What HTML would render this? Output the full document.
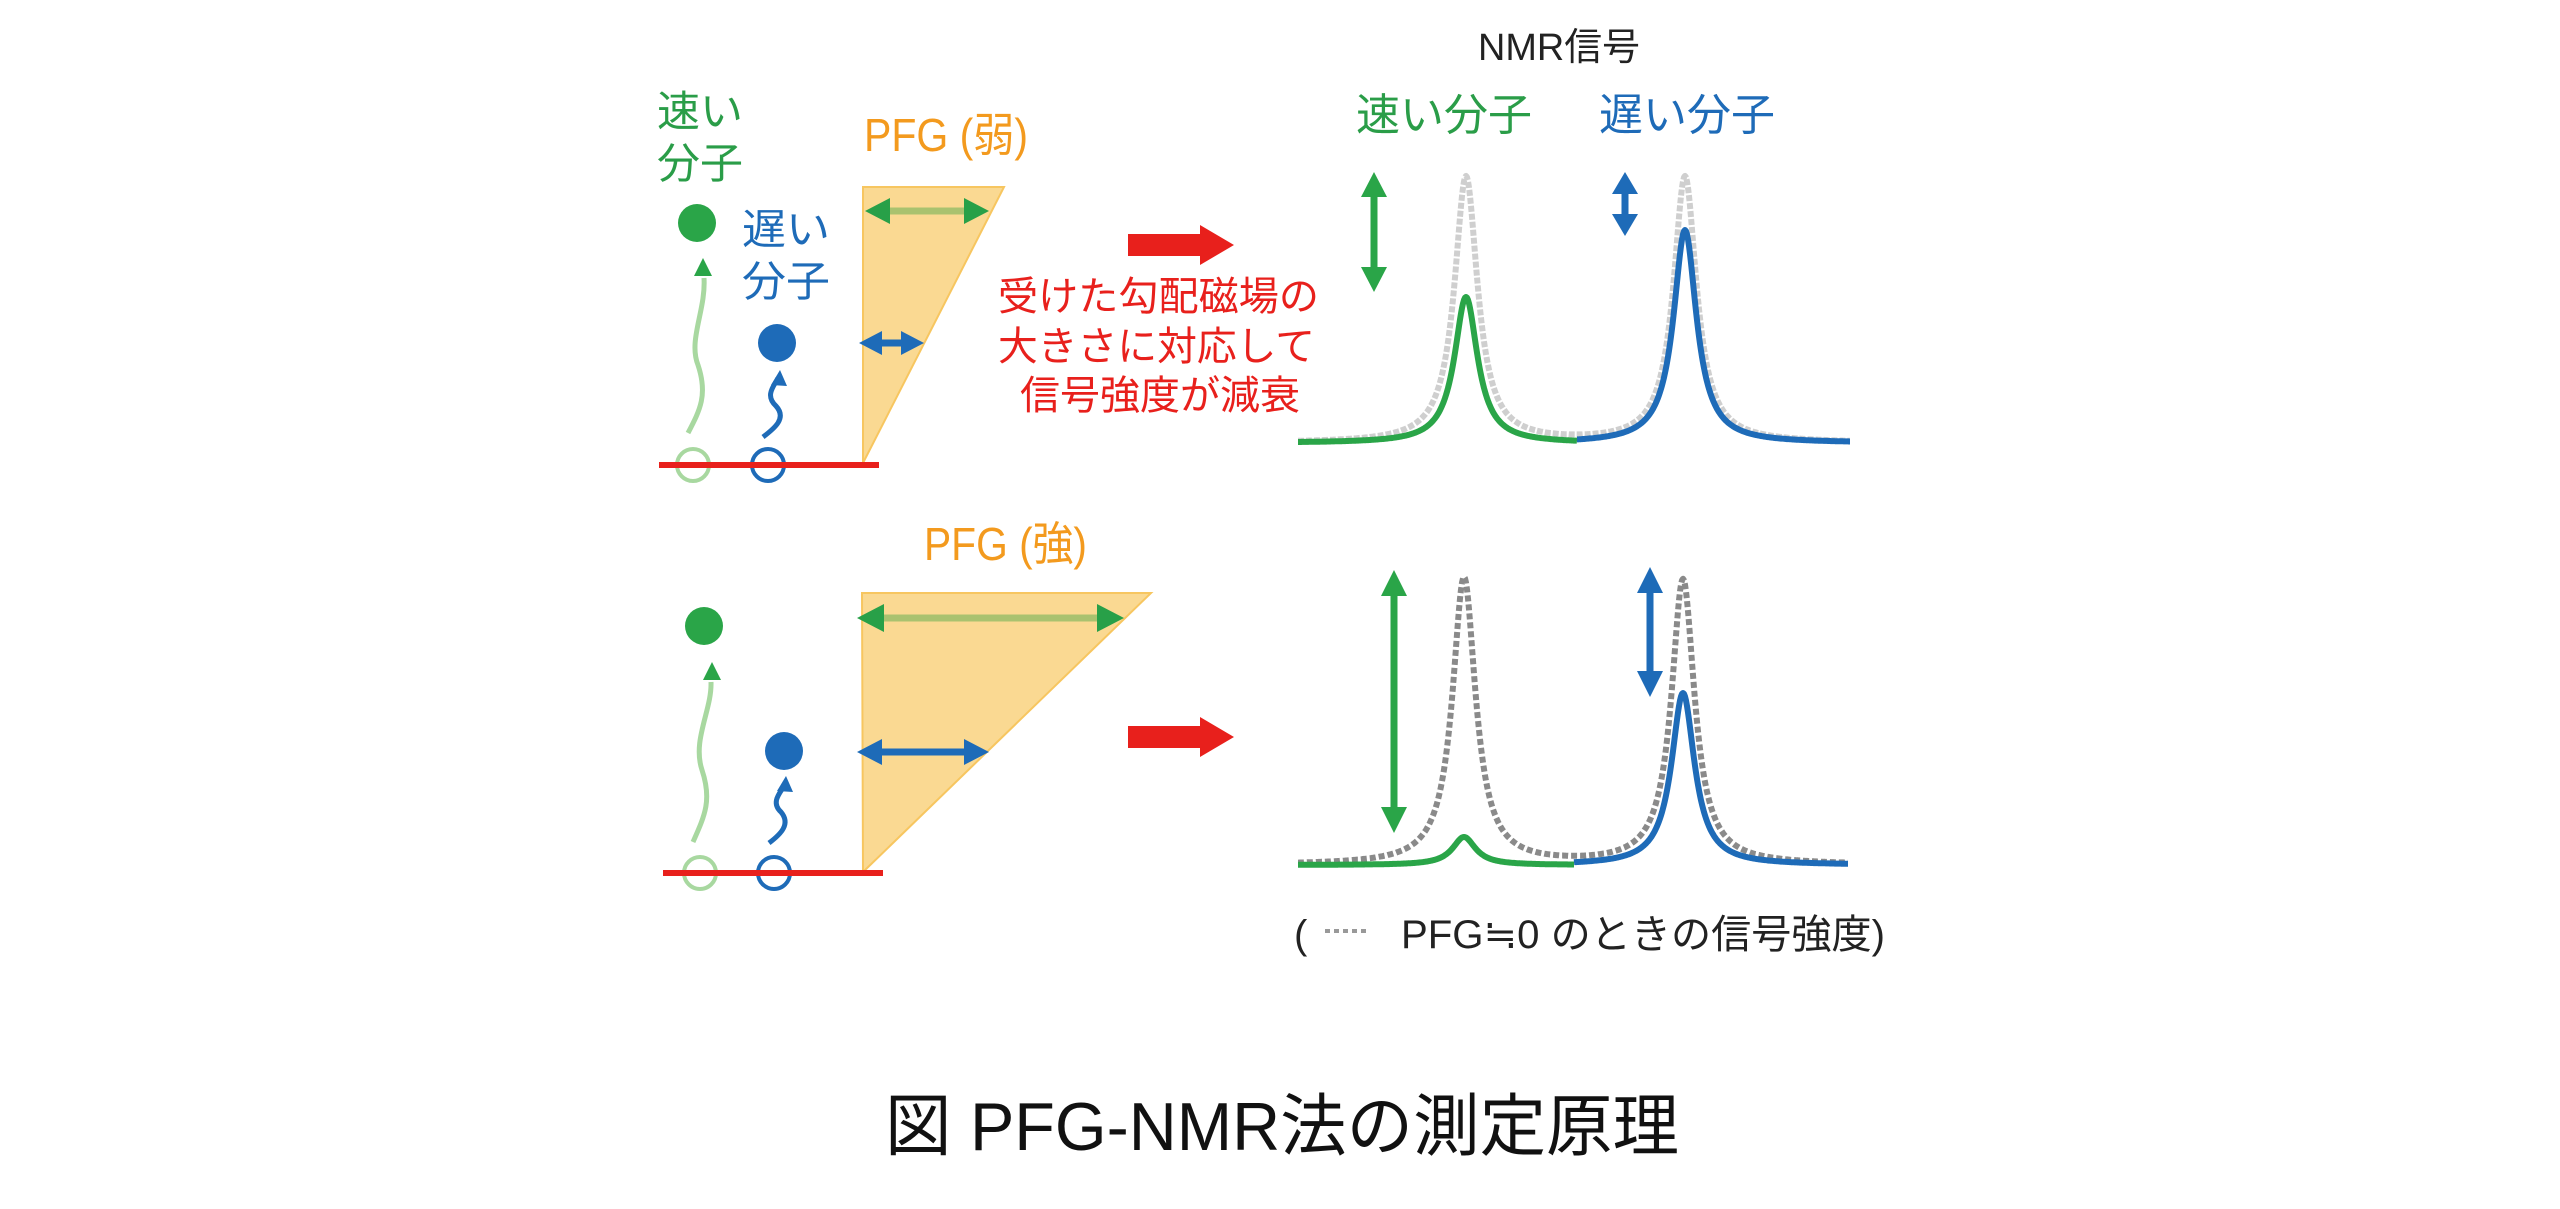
<!DOCTYPE html>
<html><head><meta charset="utf-8"><style>
html,body{margin:0;padding:0;background:#fff}
svg{display:block}
text{font-family:"Liberation Sans","Noto Sans CJK JP",sans-serif}
</style></head><body>
<svg id="s" width="2560" height="1209" viewBox="0 0 2560 1209" xmlns="http://www.w3.org/2000/svg">
<!-- top left -->
<text x="657" y="126" font-size="42" fill="#2a9d48" textLength="86" lengthAdjust="spacingAndGlyphs">速い</text>
<text x="657" y="178" font-size="42" fill="#2a9d48" textLength="86" lengthAdjust="spacingAndGlyphs">分子</text>
<text x="742" y="244" font-size="42" fill="#1e6bb8" textLength="88" lengthAdjust="spacingAndGlyphs">遅い</text>
<text x="742" y="296" font-size="42" fill="#1e6bb8" textLength="88" lengthAdjust="spacingAndGlyphs">分子</text>
<text x="864" y="151" font-size="46" fill="#f39a1e" textLength="164" lengthAdjust="spacingAndGlyphs">PFG (弱)</text>
<polygon points="863,187 1004,187 863,463" fill="#fad992" stroke="#f7c660" stroke-width="2"/>
<line x1="880" y1="211" x2="972" y2="211" stroke="#a9c26f" stroke-width="7"/>
<polygon points="865,211 890,198 890,224" fill="#28a048"/><polygon points="989,211 964,198 964,224" fill="#28a048"/>
<line x1="875" y1="343" x2="910" y2="343" stroke="#1e6bb8" stroke-width="7"/>
<polygon points="859,343 882,331 882,355" fill="#1e6bb8"/><polygon points="924,343 901,331 901,355" fill="#1e6bb8"/>
<circle cx="697" cy="223" r="19" fill="#2aa548"/>
<path d="M688,433 C700,410 708,395 698,365 C688,340 706,310 704,278" fill="none" stroke="#a8d8a0" stroke-width="5"/>
<polygon points="703,258 694,276 712,276" fill="#2aa548"/>
<circle cx="777" cy="343" r="19" fill="#1e6bb8"/>
<path d="M763,437 C775,428 787,418 776,406 C764,395 775,385 778,378" fill="none" stroke="#1e6bb8" stroke-width="5"/>
<polygon points="780,370 771,385 787,386" fill="#1e6bb8"/>
<circle cx="693" cy="465" r="16" fill="none" stroke="#a8d8a0" stroke-width="4"/>
<circle cx="768" cy="465" r="16" fill="none" stroke="#1e6bb8" stroke-width="4"/>
<line x1="659" y1="465" x2="879" y2="465" stroke="#e8201c" stroke-width="6"/>
<!-- red arrow top -->
<polygon points="1128,234 1200,234 1200,225 1234,245 1200,265 1200,256 1128,256" fill="#e8201c"/>
<text x="998" y="310" font-size="40" fill="#e8201c" textLength="321" lengthAdjust="spacingAndGlyphs">受けた勾配磁場の</text>
<text x="998" y="360" font-size="40" fill="#e8201c" textLength="317" lengthAdjust="spacingAndGlyphs">大きさに対応して</text>
<text x="1020" y="409" font-size="40" fill="#e8201c" textLength="280" lengthAdjust="spacingAndGlyphs">信号強度が減衰</text>
<!-- bottom left -->
<text x="924" y="560" font-size="46" fill="#f39a1e" textLength="163" lengthAdjust="spacingAndGlyphs">PFG (強)</text>
<polygon points="862,593 1151,593 863,872" fill="#fad992" stroke="#f7c660" stroke-width="2"/>
<line x1="878" y1="618" x2="1104" y2="618" stroke="#a9c26f" stroke-width="7"/>
<polygon points="857,618 884,604 884,632" fill="#28a048"/><polygon points="1124,618 1097,604 1097,632" fill="#28a048"/>
<line x1="878" y1="752" x2="970" y2="752" stroke="#1e6bb8" stroke-width="7"/>
<polygon points="857,752 882,739 882,765" fill="#1e6bb8"/><polygon points="989,752 964,739 964,765" fill="#1e6bb8"/>
<circle cx="704" cy="626" r="19" fill="#2aa548"/>
<path d="M693,842 C705,815 712,800 702,770 C692,740 712,710 711,682" fill="none" stroke="#a8d8a0" stroke-width="5"/>
<polygon points="712,662 703,680 721,680" fill="#2aa548"/>
<circle cx="784" cy="751" r="19" fill="#1e6bb8"/>
<path d="M769,843 C781,834 791,824 781,812 C770,802 781,792 784,786" fill="none" stroke="#1e6bb8" stroke-width="5"/>
<polygon points="786,776 777,791 793,792" fill="#1e6bb8"/>
<circle cx="700" cy="873" r="16" fill="none" stroke="#a8d8a0" stroke-width="4"/>
<circle cx="774" cy="873" r="16" fill="none" stroke="#1e6bb8" stroke-width="4"/>
<line x1="663" y1="873" x2="883" y2="873" stroke="#e8201c" stroke-width="6"/>
<polygon points="1128,726 1200,726 1200,717 1234,737 1200,757 1200,748 1128,748" fill="#e8201c"/>
<!-- right labels -->
<text x="1478" y="60" font-size="38" fill="#222" textLength="162" lengthAdjust="spacingAndGlyphs">NMR信号</text>
<text x="1356" y="130" font-size="44" fill="#2a9d48" textLength="176" lengthAdjust="spacingAndGlyphs">速い分子</text>
<text x="1599" y="130" font-size="44" fill="#1e6bb8" textLength="176" lengthAdjust="spacingAndGlyphs">遅い分子</text>
<g id="spec"></g>
<!-- vertical arrows -->
<line x1="1374" y1="190" x2="1374" y2="274" stroke="#2aa548" stroke-width="7"/>
<polygon points="1374,172 1361,197 1387,197" fill="#2aa548"/><polygon points="1374,292 1361,267 1387,267" fill="#2aa548"/>
<line x1="1625" y1="185" x2="1625" y2="223" stroke="#1e6bb8" stroke-width="7"/>
<polygon points="1625,172 1612,194 1638,194" fill="#1e6bb8"/><polygon points="1625,236 1612,214 1638,214" fill="#1e6bb8"/>
<line x1="1394" y1="590" x2="1394" y2="815" stroke="#2aa548" stroke-width="7"/>
<polygon points="1394,570 1381,596 1407,596" fill="#2aa548"/><polygon points="1394,833 1381,807 1407,807" fill="#2aa548"/>
<line x1="1650" y1="585" x2="1650" y2="680" stroke="#1e6bb8" stroke-width="7"/>
<polygon points="1650,567 1637,593 1663,593" fill="#1e6bb8"/><polygon points="1650,697 1637,671 1663,671" fill="#1e6bb8"/>
<!-- legend -->
<text x="1294" y="948" font-size="40" fill="#222">(</text>
<line x1="1325" y1="931" x2="1370" y2="931" stroke="#999" stroke-width="4" stroke-dasharray="5,4"/>
<text x="1401" y="948" font-size="40" fill="#222" textLength="484" lengthAdjust="spacingAndGlyphs">PFG≒0 のときの信号強度)</text>
<!-- caption -->
<text x="885" y="1150" font-size="68" fill="#111" textLength="794" lengthAdjust="spacingAndGlyphs">図  PFG-NMR法の測定原理</text>
</svg>
<script>
(function(){
var g=document.getElementById('spec');var ns='http://www.w3.org/2000/svg';
function path(d,stroke,w,dash){var p=document.createElementNS(ns,'path');p.setAttribute('d',d);p.setAttribute('fill','none');p.setAttribute('stroke',stroke);p.setAttribute('stroke-width',w);p.setAttribute('stroke-linejoin','round');if(dash)p.setAttribute('stroke-dasharray',dash);g.appendChild(p);}
function curve(x0,x1,base,peaks){var d='';for(var x=x0;x<=x1;x+=1){var y=base;for(var i=0;i<peaks.length;i++){var p=peaks[i];var t=(x-p[0])/p[2];y-=p[1]/(1+t*t);}d+=(x==x0?'M':'L')+x+','+y.toFixed(1);}return d;}
var w=14;
path(curve(1298,1850,443,[[1466,266,w],[1685,266,w]]),'#cfcfcf',6,'6,2');
path(curve(1298,1577,443,[[1466,146,w],[1685,2,w]]),'#2aa548',6);
path(curve(1577,1850,443,[[1466,2,w],[1685,213,w]]),'#1e6bb8',6);
path(curve(1298,1848,865,[[1464,287,w],[1683,285,w]]),'#8a8a8a',6,'6,3');
path(curve(1298,1574,865,[[1464,28,w],[1683,3,w]]),'#2aa548',6);
path(curve(1574,1848,865,[[1464,1,w],[1683,172,w]]),'#1e6bb8',6);
})();
</script>
</body></html>
